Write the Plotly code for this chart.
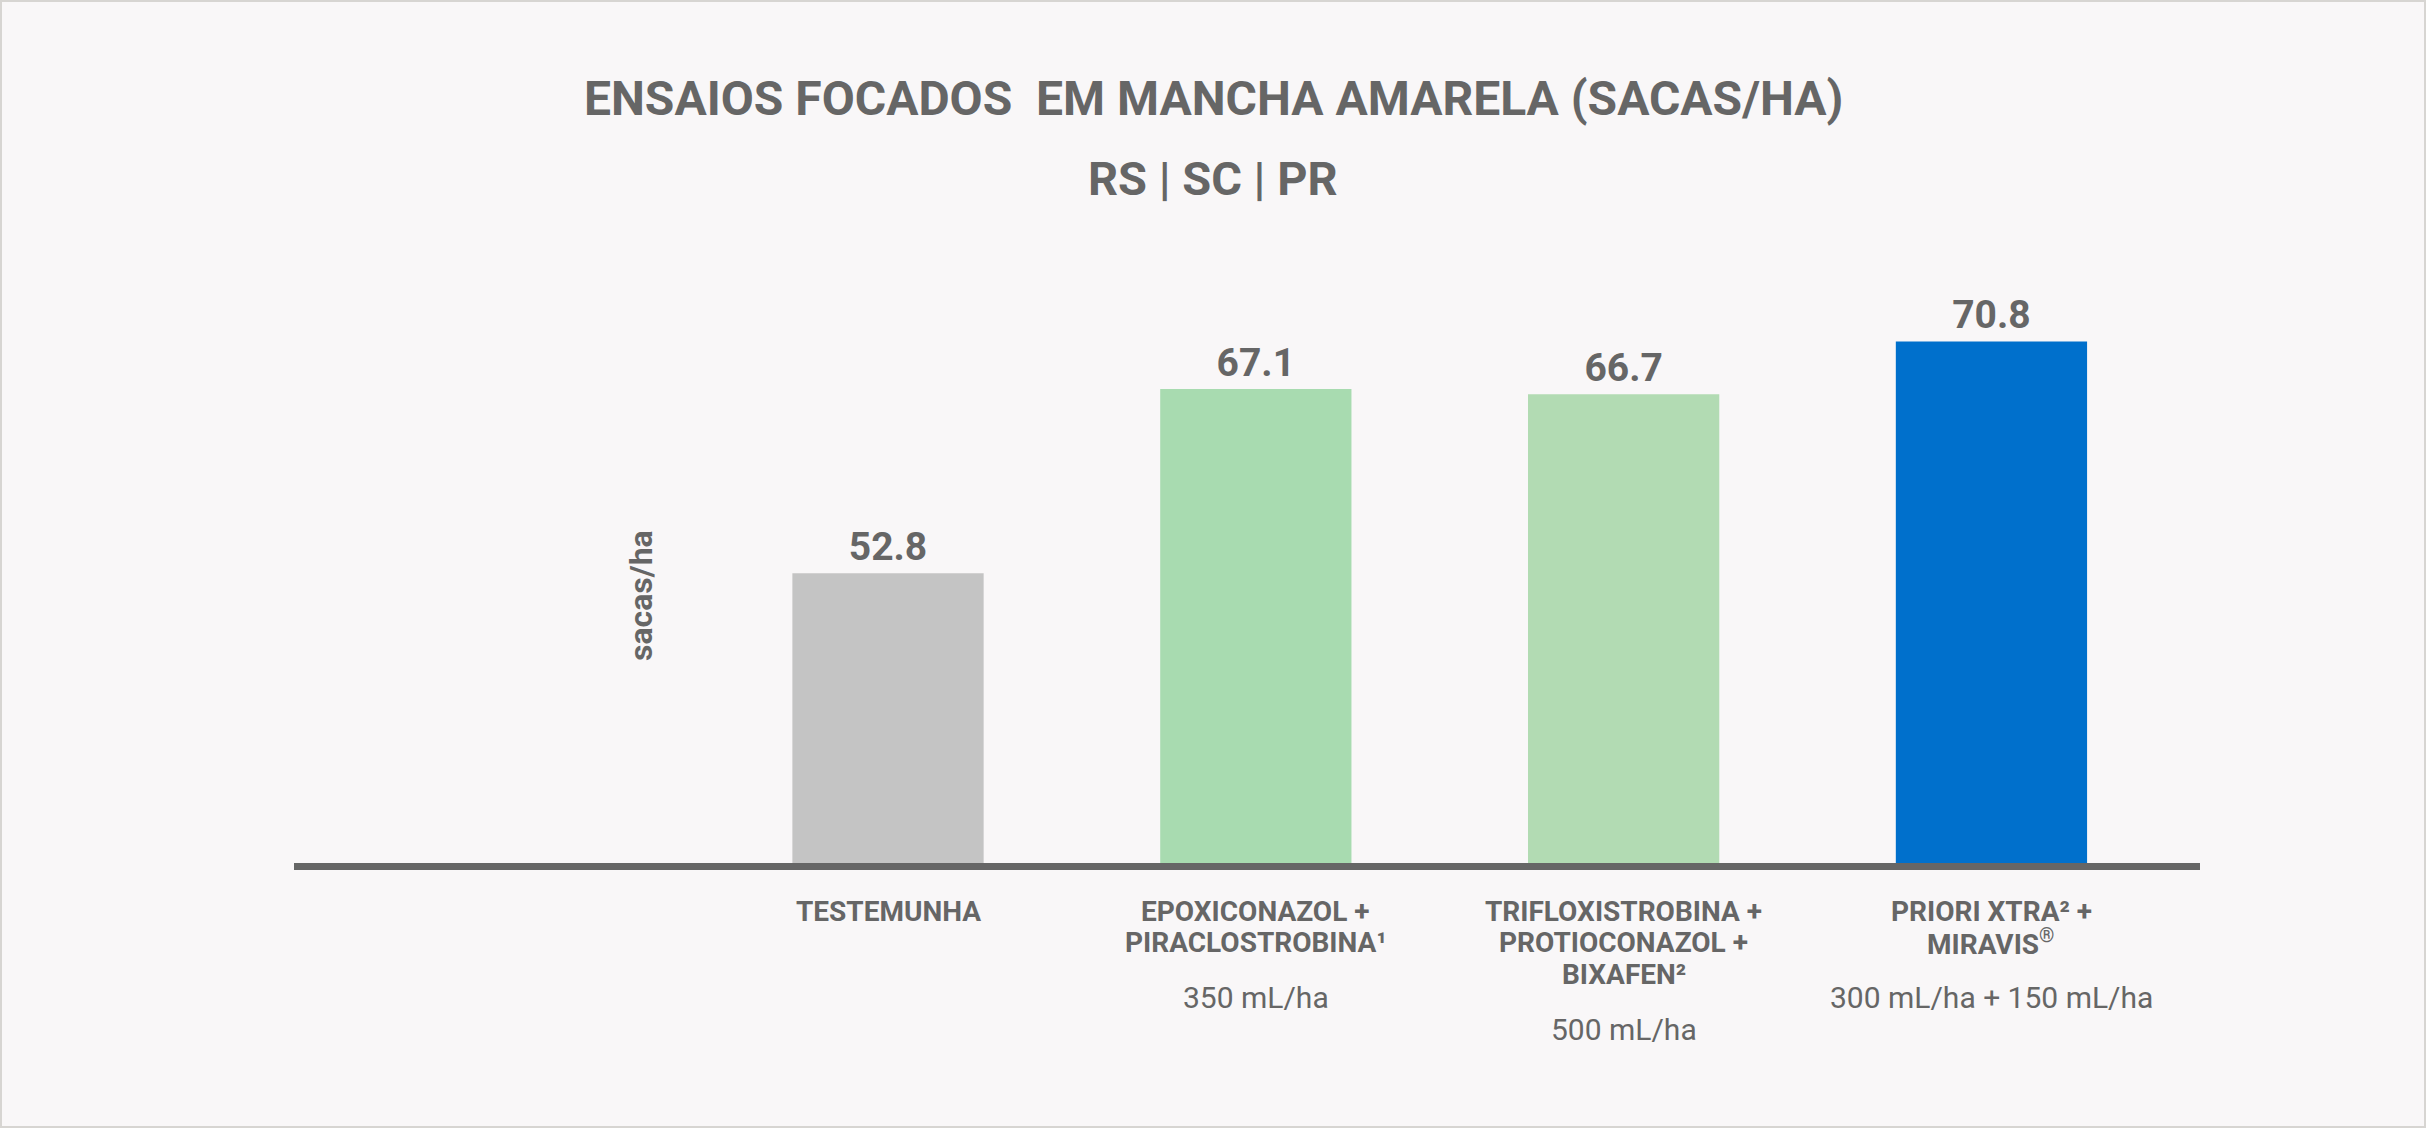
import plotly.graph_objects as go

# ---- data ----
categories = ["TESTEMUNHA", "EPOXICONAZOL", "TRIFLOXISTROBINA", "PRIORI XTRA"]
values = [52.8, 67.1, 66.7, 70.8]
label_lines = [
    ["TESTEMUNHA"],
    ["EPOXICONAZOL +", "PIRACLOSTROBINA¹"],
    ["TRIFLOXISTROBINA +", "PROTIOCONAZOL +", "BIXAFEN²"],
    ["PRIORI XTRA² +", "MIRAVIS<sup>®</sup>"],
]
doses = ["", "350 mL/ha", "500 mL/ha", "300 mL/ha + 150 mL/ha"]
bar_colors = ["#c4c4c4", "#a8dbb0", "#b2dbb3", "#0070cc"]
title_text = "ENSAIOS FOCADOS  EM MANCHA AMARELA (SACAS/HA)"
subtitle_text = "RS | SC | PR"
y_title = "sacas/ha"

TEXT = "#666666"
FONT = "Roboto"
W, H = 2426, 1128
ML, MR, MT, MB = 294, 226, 223, 265
PH = H - MT - MB

fig = go.Figure()
fig.add_trace(go.Bar(
    x=categories, y=values,
    marker=dict(color=bar_colors, line=dict(width=0)),
    width=0.52,
    text=[f"{v:.1f}" for v in values],
    textposition="outside",
    textfont=dict(family=FONT, size=39, color=TEXT, weight="bold"),
    cliponaxis=False,
    hoverinfo="skip",
))

annotations = []
# title + subtitle
annotations.append(dict(text=f"<b>{title_text}</b>", xref="paper", yref="paper",
                        x=(W / 2 - ML) / (W - ML - MR), y=1, yshift=MT - 98,
                        xanchor="center", yanchor="middle", showarrow=False,
                        font=dict(family=FONT, size=48, color=TEXT)))
annotations.append(dict(text=f"<b>{subtitle_text}</b>", xref="paper", yref="paper",
                        x=(W / 2 - ML) / (W - ML - MR), y=1, yshift=MT - 178,
                        xanchor="center", yanchor="middle", showarrow=False,
                        font=dict(family=FONT, size=47, color=TEXT)))
# y title
annotations.append(dict(text=f"<b>{y_title}</b>", xref="paper", yref="paper",
                        x=(641 - ML) / (W - ML - MR), y=(MT + PH - 596) / PH,
                        xanchor="center", yanchor="middle", textangle=-90,
                        showarrow=False, font=dict(family=FONT, size=32, color=TEXT)))
# category labels (multi-line, tight spacing)
for cat, lines, dose in zip(categories, label_lines, doses):
    for j, ln in enumerate(lines):
        annotations.append(dict(text=f"<b>{ln}</b>", xref="x", yref="paper", x=cat, y=0,
                                yshift=-(48 + 31.7 * j), xanchor="center", yanchor="middle",
                                showarrow=False, font=dict(family=FONT, size=28, color=TEXT)))
    if dose:
        annotations.append(dict(text=dose, xref="x", yref="paper", x=cat, y=0,
                                yshift=-(48 + 31.7 * (len(lines) - 1) + 55),
                                xanchor="center", yanchor="middle", showarrow=False,
                                font=dict(family=FONT, size=30, color=TEXT)))

x0 = (1 - ML) / (W - ML - MR)
x1 = (W - 1 - ML) / (W - ML - MR)
y0 = -(H - 1 - MT - PH) / PH
y1 = 1 + (MT - 1) / PH
fig.update_layout(
    width=W, height=H,
    margin=dict(l=ML, r=MR, t=MT, b=MB, pad=0),
    paper_bgcolor="#f9f7f8", plot_bgcolor="#f9f7f8",
    showlegend=False,
    font=dict(family=FONT, color=TEXT),
    xaxis=dict(type="category", range=[-1.615, 3.567], showticklabels=False, ticks="",
               showgrid=False, zeroline=False, showline=True, linecolor="#666666",
               linewidth=7, fixedrange=True),
    yaxis=dict(range=[30.3, 80], visible=False, showgrid=False, zeroline=False, fixedrange=True),
    annotations=annotations,
    shapes=[dict(type="rect", xref="paper", yref="paper", x0=x0, x1=x1, y0=y0, y1=y1,
                 line=dict(color="#d7d5d2", width=2), fillcolor="rgba(0,0,0,0)", layer="below")],
)

fig.write_html("out.html", config={"displayModeBar": False})
